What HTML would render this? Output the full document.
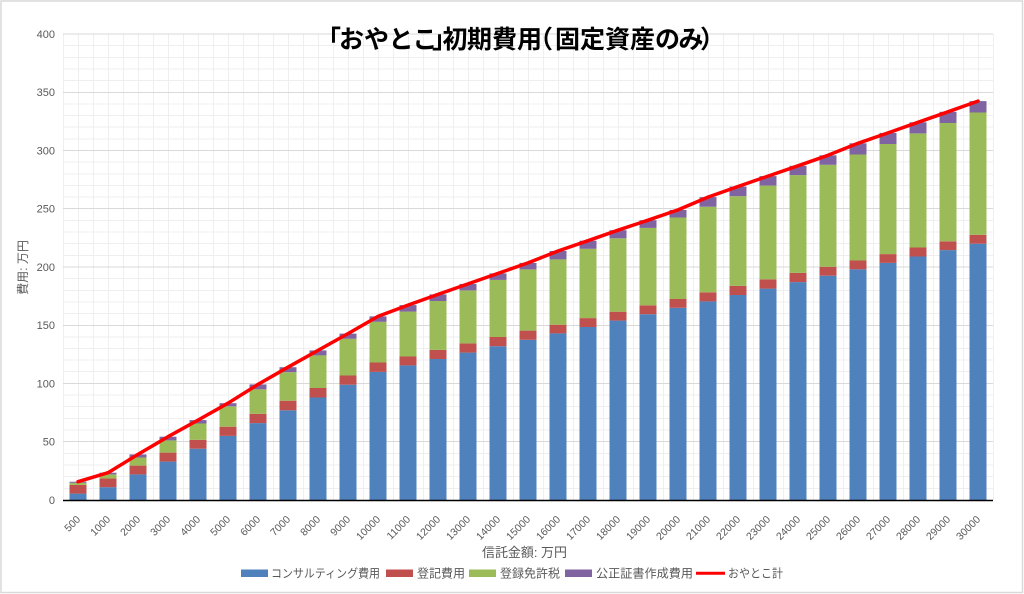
<!DOCTYPE html>
<html><head><meta charset="utf-8"><style>
html,body{margin:0;padding:0;background:#fff;}
svg{display:block;}
.j{font-family:"Liberation Sans","Noto Sans CJK JP",sans-serif;}
.t{font-family:"Liberation Sans",sans-serif;font-size:11px;fill:#595959;}
.xt{font-family:"Liberation Sans",sans-serif;font-size:10.5px;fill:#595959;text-anchor:end;}
</style></head><body>
<svg width="1024" height="594" viewBox="0 0 1024 594" xmlns="http://www.w3.org/2000/svg">
<rect x="0" y="0" width="1024" height="594" fill="#fff"/>
<rect x="1" y="1" width="1021.5" height="591.5" fill="#fff" stroke="#d9d9d9" stroke-width="1.5"/>

<!-- vertical grid -->
<path stroke="#efefef" stroke-width="1" fill="none" d="M63.5 34V500M78.5 34V500M93.5 34V500M108.5 34V500M123.5 34V500M138.5 34V500M153.5 34V500M168.5 34V500M183.5 34V500M198.5 34V500M213.5 34V500M228.5 34V500M243.5 34V500M258.5 34V500M273.5 34V500M288.5 34V500M303.5 34V500M318.5 34V500M333.5 34V500M348.5 34V500M363.5 34V500M378.5 34V500M393.5 34V500M408.5 34V500M423.5 34V500M438.5 34V500M453.5 34V500M468.5 34V500M483.5 34V500M498.5 34V500M513.5 34V500M528.5 34V500M543.5 34V500M558.5 34V500M573.5 34V500M588.5 34V500M603.5 34V500M618.5 34V500M633.5 34V500M648.5 34V500M663.5 34V500M678.5 34V500M693.5 34V500M708.5 34V500M723.5 34V500M738.5 34V500M753.5 34V500M768.5 34V500M783.5 34V500M798.5 34V500M813.5 34V500M828.5 34V500M843.5 34V500M858.5 34V500M873.5 34V500M888.5 34V500M903.5 34V500M918.5 34V500M933.5 34V500M948.5 34V500M963.5 34V500M978.5 34V500M993.5 34V500"/>
<!-- minor horizontal grid -->
<path stroke="#efefef" stroke-width="1" fill="none" d="M63 488.5H993M63 476.5H993M63 465H993M63 453.5H993M63 430H993M63 418.5H993M63 406.5H993M63 395H993M63 371.5H993M63 360H993M63 348.5H993M63 337H993M63 313.5H993M63 302H993M63 290.5H993M63 278.5H993M63 255.5H993M63 243.5H993M63 232H993M63 220.5H993M63 197H993M63 185.5H993M63 174H993M63 162H993M63 139H993M63 127H993M63 115.5H993M63 104H993M63 80.5H993M63 69H993M63 57.5H993M63 45.5H993"/>
<!-- major horizontal grid -->
<path stroke="#d9d9d9" stroke-width="1" fill="none" d="M63 441.5H993M63 383.5H993M63 325.5H993M63 267H993M63 208.5H993M63 150.5H993M63 92.5H993M63 34H993"/>

<!-- bars: blue -->
<g fill="#4f81bd">
<rect x="69.5" y="493.6" width="17" height="6.4"/>
<rect x="99.5" y="487.2" width="17" height="12.8"/>
<rect x="129.5" y="474.4" width="17" height="25.6"/>
<rect x="159.5" y="461.6" width="17" height="38.4"/>
<rect x="189.5" y="448.7" width="17" height="51.3"/>
<rect x="219.5" y="435.9" width="17" height="64.1"/>
<rect x="249.5" y="423.1" width="17" height="76.9"/>
<rect x="279.5" y="410.3" width="17" height="89.7"/>
<rect x="309.5" y="397.5" width="17" height="102.5"/>
<rect x="339.5" y="384.7" width="17" height="115.3"/>
<rect x="369.5" y="371.9" width="17" height="128.1"/>
<rect x="399.5" y="365.4" width="17" height="134.6"/>
<rect x="429.5" y="359.0" width="17" height="141.0"/>
<rect x="459.5" y="352.6" width="17" height="147.4"/>
<rect x="489.5" y="346.2" width="17" height="153.8"/>
<rect x="519.5" y="339.8" width="17" height="160.2"/>
<rect x="549.5" y="333.4" width="17" height="166.6"/>
<rect x="579.5" y="327.0" width="17" height="173.0"/>
<rect x="609.5" y="320.6" width="17" height="179.4"/>
<rect x="639.5" y="314.2" width="17" height="185.8"/>
<rect x="669.5" y="307.8" width="17" height="192.2"/>
<rect x="699.5" y="301.4" width="17" height="198.6"/>
<rect x="729.5" y="295.0" width="17" height="205.0"/>
<rect x="759.5" y="288.6" width="17" height="211.4"/>
<rect x="789.5" y="282.1" width="17" height="217.9"/>
<rect x="819.5" y="275.7" width="17" height="224.3"/>
<rect x="849.5" y="269.3" width="17" height="230.7"/>
<rect x="879.5" y="262.9" width="17" height="237.1"/>
<rect x="909.5" y="256.5" width="17" height="243.5"/>
<rect x="939.5" y="250.1" width="17" height="249.9"/>
<rect x="969.5" y="243.7" width="17" height="256.3"/>
</g>
<!-- red -->
<g fill="#c0504d">
<rect x="69.5" y="484.9" width="17" height="8.7"/>
<rect x="99.5" y="478.4" width="17" height="8.8"/>
<rect x="129.5" y="465.6" width="17" height="8.8"/>
<rect x="159.5" y="452.6" width="17" height="9.0"/>
<rect x="189.5" y="439.8" width="17" height="8.9"/>
<rect x="219.5" y="426.7" width="17" height="9.2"/>
<rect x="249.5" y="413.8" width="17" height="9.3"/>
<rect x="279.5" y="400.7" width="17" height="9.6"/>
<rect x="309.5" y="388.0" width="17" height="9.5"/>
<rect x="339.5" y="375.5" width="17" height="9.2"/>
<rect x="369.5" y="362.5" width="17" height="9.4"/>
<rect x="399.5" y="356.5" width="17" height="8.9"/>
<rect x="429.5" y="349.9" width="17" height="9.1"/>
<rect x="459.5" y="343.4" width="17" height="9.2"/>
<rect x="489.5" y="337.0" width="17" height="9.2"/>
<rect x="519.5" y="330.6" width="17" height="9.2"/>
<rect x="549.5" y="324.7" width="17" height="8.7"/>
<rect x="579.5" y="318.1" width="17" height="8.9"/>
<rect x="609.5" y="311.7" width="17" height="8.9"/>
<rect x="639.5" y="305.3" width="17" height="8.9"/>
<rect x="669.5" y="299.0" width="17" height="8.8"/>
<rect x="699.5" y="292.3" width="17" height="9.1"/>
<rect x="729.5" y="285.9" width="17" height="9.1"/>
<rect x="759.5" y="279.3" width="17" height="9.3"/>
<rect x="789.5" y="272.9" width="17" height="9.2"/>
<rect x="819.5" y="266.8" width="17" height="8.9"/>
<rect x="849.5" y="260.5" width="17" height="8.8"/>
<rect x="879.5" y="254.1" width="17" height="8.8"/>
<rect x="909.5" y="247.5" width="17" height="9.0"/>
<rect x="939.5" y="241.3" width="17" height="8.8"/>
<rect x="969.5" y="234.8" width="17" height="8.9"/>
</g>
<!-- green -->
<g fill="#9bbb59">
<rect x="69.5" y="482.8" width="17" height="2.1"/>
<rect x="99.5" y="474.4" width="17" height="4.0"/>
<rect x="129.5" y="457.5" width="17" height="8.1"/>
<rect x="159.5" y="440.4" width="17" height="12.2"/>
<rect x="189.5" y="423.5" width="17" height="16.3"/>
<rect x="219.5" y="406.3" width="17" height="20.4"/>
<rect x="249.5" y="389.3" width="17" height="24.5"/>
<rect x="279.5" y="372.2" width="17" height="28.5"/>
<rect x="309.5" y="355.4" width="17" height="32.6"/>
<rect x="339.5" y="338.8" width="17" height="36.7"/>
<rect x="369.5" y="321.8" width="17" height="40.7"/>
<rect x="399.5" y="311.6" width="17" height="44.9"/>
<rect x="429.5" y="301.0" width="17" height="48.9"/>
<rect x="459.5" y="290.4" width="17" height="53.0"/>
<rect x="489.5" y="279.9" width="17" height="57.1"/>
<rect x="519.5" y="269.4" width="17" height="61.2"/>
<rect x="549.5" y="259.4" width="17" height="65.3"/>
<rect x="579.5" y="248.8" width="17" height="69.3"/>
<rect x="609.5" y="238.3" width="17" height="73.4"/>
<rect x="639.5" y="227.9" width="17" height="77.4"/>
<rect x="669.5" y="217.5" width="17" height="81.5"/>
<rect x="699.5" y="206.7" width="17" height="85.6"/>
<rect x="729.5" y="196.2" width="17" height="89.7"/>
<rect x="759.5" y="185.6" width="17" height="93.7"/>
<rect x="789.5" y="175.1" width="17" height="97.8"/>
<rect x="819.5" y="164.8" width="17" height="102.0"/>
<rect x="849.5" y="154.5" width="17" height="106.0"/>
<rect x="879.5" y="144.0" width="17" height="110.1"/>
<rect x="909.5" y="133.4" width="17" height="114.1"/>
<rect x="939.5" y="123.0" width="17" height="118.3"/>
<rect x="969.5" y="112.5" width="17" height="122.3"/>
</g>
<!-- purple -->
<g fill="#8064a2">
<rect x="69.5" y="481.7" width="17" height="1.1"/>
<rect x="99.5" y="472.7" width="17" height="1.7"/>
<rect x="129.5" y="454.4" width="17" height="3.1"/>
<rect x="159.5" y="436.7" width="17" height="3.7"/>
<rect x="189.5" y="420.1" width="17" height="3.4"/>
<rect x="219.5" y="403.2" width="17" height="3.1"/>
<rect x="249.5" y="384.4" width="17" height="4.9"/>
<rect x="279.5" y="367.2" width="17" height="5.0"/>
<rect x="309.5" y="350.4" width="17" height="5.0"/>
<rect x="339.5" y="333.6" width="17" height="5.2"/>
<rect x="369.5" y="316.4" width="17" height="5.4"/>
<rect x="399.5" y="305.1" width="17" height="6.5"/>
<rect x="429.5" y="294.4" width="17" height="6.6"/>
<rect x="459.5" y="283.9" width="17" height="6.5"/>
<rect x="489.5" y="273.4" width="17" height="6.5"/>
<rect x="519.5" y="262.9" width="17" height="6.5"/>
<rect x="549.5" y="251.0" width="17" height="8.4"/>
<rect x="579.5" y="240.7" width="17" height="8.1"/>
<rect x="609.5" y="230.2" width="17" height="8.1"/>
<rect x="639.5" y="220.2" width="17" height="7.7"/>
<rect x="669.5" y="209.9" width="17" height="7.6"/>
<rect x="699.5" y="197.1" width="17" height="9.6"/>
<rect x="729.5" y="186.5" width="17" height="9.7"/>
<rect x="759.5" y="176.1" width="17" height="9.5"/>
<rect x="789.5" y="165.8" width="17" height="9.3"/>
<rect x="819.5" y="155.3" width="17" height="9.5"/>
<rect x="849.5" y="143.3" width="17" height="11.2"/>
<rect x="879.5" y="132.9" width="17" height="11.1"/>
<rect x="909.5" y="122.3" width="17" height="11.1"/>
<rect x="939.5" y="111.8" width="17" height="11.2"/>
<rect x="969.5" y="101.1" width="17" height="11.4"/>
</g>

<!-- x axis line -->
<line x1="63" y1="500.5" x2="993" y2="500.5" stroke="#000" stroke-width="1.4"/>

<!-- total line -->
<polyline fill="none" stroke="#ff0000" stroke-width="3.5" stroke-linejoin="round" stroke-linecap="round" points="78,481.7 108,472.7 138,454.4 168,436.7 198,420.1 228,403.2 258,384.4 288,367.2 318,350.4 348,333.6 378,316.4 408,305.1 438,294.4 468,283.9 498,273.4 528,262.9 558,251.0 588,240.7 618,230.2 648,220.2 678,209.9 708,197.1 738,186.5 768,176.1 798,165.8 828,155.3 858,143.3 888,132.9 918,122.3 948,111.8 978,101.1"/>

<!-- y tick labels -->
<g class="t" text-anchor="end">
<text x="55" y="504">0</text>
<text x="55" y="445.5">50</text>
<text x="55" y="387.5">100</text>
<text x="55" y="329">150</text>
<text x="55" y="271">200</text>
<text x="55" y="212.5">250</text>
<text x="55" y="154.5">300</text>
<text x="55" y="96">350</text>
<text x="55" y="38">400</text>
</g>

<!-- x tick labels -->
<g class="xt">
<text transform="translate(81,520) rotate(-45)">500</text>
<text transform="translate(111,520) rotate(-45)">1000</text>
<text transform="translate(141,520) rotate(-45)">2000</text>
<text transform="translate(171,520) rotate(-45)">3000</text>
<text transform="translate(201,520) rotate(-45)">4000</text>
<text transform="translate(231,520) rotate(-45)">5000</text>
<text transform="translate(261,520) rotate(-45)">6000</text>
<text transform="translate(291,520) rotate(-45)">7000</text>
<text transform="translate(321,520) rotate(-45)">8000</text>
<text transform="translate(351,520) rotate(-45)">9000</text>
<text transform="translate(381,520) rotate(-45)">10000</text>
<text transform="translate(411,520) rotate(-45)">11000</text>
<text transform="translate(441,520) rotate(-45)">12000</text>
<text transform="translate(471,520) rotate(-45)">13000</text>
<text transform="translate(501,520) rotate(-45)">14000</text>
<text transform="translate(531,520) rotate(-45)">15000</text>
<text transform="translate(561,520) rotate(-45)">16000</text>
<text transform="translate(591,520) rotate(-45)">17000</text>
<text transform="translate(621,520) rotate(-45)">18000</text>
<text transform="translate(651,520) rotate(-45)">19000</text>
<text transform="translate(681,520) rotate(-45)">20000</text>
<text transform="translate(711,520) rotate(-45)">21000</text>
<text transform="translate(741,520) rotate(-45)">22000</text>
<text transform="translate(771,520) rotate(-45)">23000</text>
<text transform="translate(801,520) rotate(-45)">24000</text>
<text transform="translate(831,520) rotate(-45)">25000</text>
<text transform="translate(861,520) rotate(-45)">26000</text>
<text transform="translate(891,520) rotate(-45)">27000</text>
<text transform="translate(921,520) rotate(-45)">28000</text>
<text transform="translate(951,520) rotate(-45)">29000</text>
<text transform="translate(981,520) rotate(-45)">30000</text>
</g>

<!-- title -->
<text class="j" y="48" font-size="25" font-weight="bold" fill="#000" x="316 339 364 388.5 412.5 432 442.5 467 492 517 528 555 580 605 630 655 678.5 700">「おやとこ」初期費用（固定資産のみ）</text>

<!-- axis titles -->
<text class="j" transform="translate(27,267.5) rotate(-90)" font-size="12" fill="#595959" text-anchor="middle">費用: 万円</text>
<text class="j" x="482" y="557" font-size="13" fill="#595959" textLength="85" lengthAdjust="spacingAndGlyphs">信託金額: 万円</text>

<!-- legend -->
<g class="j" font-size="12" fill="#595959">
<rect x="241" y="569.5" width="27" height="7.5" fill="#4f81bd"/>
<text x="271" y="577.5" textLength="109" lengthAdjust="spacingAndGlyphs">コンサルティング費用</text>
<rect x="386" y="569.5" width="27" height="7.5" fill="#c0504d"/>
<text x="417" y="577.5" textLength="48" lengthAdjust="spacingAndGlyphs">登記費用</text>
<rect x="469" y="569.5" width="27" height="7.5" fill="#9bbb59"/>
<text x="500" y="577.5" textLength="60" lengthAdjust="spacingAndGlyphs">登録免許税</text>
<rect x="565" y="569.5" width="27" height="7.5" fill="#8064a2"/>
<text x="596" y="577.5" textLength="97" lengthAdjust="spacingAndGlyphs">公正証書作成費用</text>
<line x1="696" y1="573.3" x2="725" y2="573.3" stroke="#ff0000" stroke-width="3"/>
<text x="728" y="577.5" textLength="55" lengthAdjust="spacingAndGlyphs">おやとこ計</text>
</g>
</svg>
</body></html>
